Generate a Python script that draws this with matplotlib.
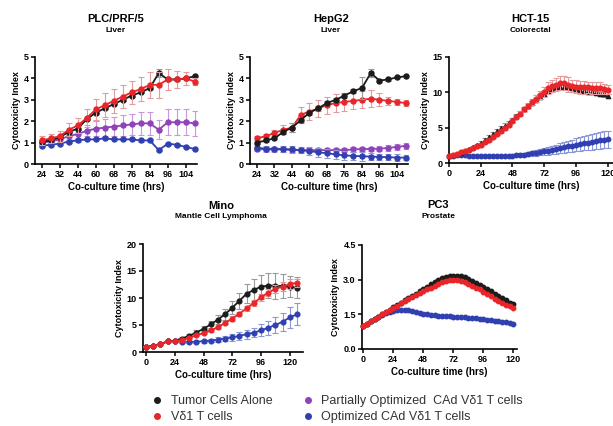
import numpy as np
import matplotlib
matplotlib.use("Agg")
import matplotlib.pyplot as plt
from matplotlib.lines import Line2D

plt.rcParams['font.family'] = ['Liberation Sans', 'DejaVu Sans']

W, H = 613, 426

# ---------------- data ----------------
liver_times = [24, 28, 32, 38, 44, 52, 60, 64, 68, 72, 76, 80, 84, 90, 96, 100, 104, 108]
liver_tick_labels = ['24', '32', '44', '60', '68', '76', '84', '96', '104']

plc_black = [1.05, 1.1, 1.25, 1.5, 1.65, 2.1, 2.4, 2.6, 2.8, 3.0, 3.2, 3.35, 3.55, 4.25, 3.95, 3.95, 4.0, 4.1]
plc_black_err = [0.05, 0.05, 0.05, 0.05, 0.05, 0.05, 0.05, 0.05, 0.05, 0.05, 0.05, 0.05, 0.05, 0.2, 0.05, 0.05, 0.05, 0.05]
plc_red = [1.1, 1.2, 1.3, 1.6, 1.8, 2.15, 2.55, 2.75, 2.95, 3.15, 3.35, 3.5, 3.7, 3.7, 3.95, 3.95, 4.0, 3.85]
plc_red_err = [0.2, 0.2, 0.25, 0.3, 0.35, 0.4, 0.5, 0.55, 0.55, 0.55, 0.55, 0.55, 0.6, 0.6, 0.5, 0.4, 0.3, 0.15]
plc_purple = [1.0, 1.05, 1.15, 1.3, 1.4, 1.55, 1.65, 1.7, 1.75, 1.8, 1.85, 1.9, 1.9, 1.6, 1.95, 1.95, 1.95, 1.9]
plc_purple_err = [0.1, 0.1, 0.1, 0.15, 0.2, 0.25, 0.35, 0.4, 0.45, 0.5, 0.5, 0.55, 0.55, 0.45, 0.6, 0.6, 0.6, 0.6]
plc_blue = [0.85, 0.9, 0.95, 1.05, 1.1, 1.15, 1.15, 1.2, 1.15, 1.15, 1.15, 1.1, 1.1, 0.65, 0.95, 0.9, 0.8, 0.7]
plc_blue_err = [0.05, 0.05, 0.05, 0.05, 0.05, 0.05, 0.05, 0.05, 0.05, 0.05, 0.05, 0.05, 0.05, 0.05, 0.05, 0.05, 0.05, 0.05]

hep_black = [1.0, 1.1, 1.2, 1.5, 1.7, 2.05, 2.4, 2.6, 2.85, 3.0, 3.2, 3.4, 3.55, 4.25, 3.9, 3.95, 4.05, 4.1]
hep_black_err = [0.05, 0.05, 0.05, 0.1, 0.2, 0.15, 0.1, 0.1, 0.1, 0.1, 0.1, 0.1, 0.5, 0.2, 0.05, 0.05, 0.05, 0.05]
hep_red = [1.2, 1.3, 1.45, 1.6, 1.7, 2.3, 2.45, 2.6, 2.75, 2.85, 2.9, 2.95, 3.0, 3.05, 3.0, 2.95, 2.9, 2.85]
hep_red_err = [0.1, 0.1, 0.15, 0.2, 0.2, 0.35, 0.4, 0.4, 0.4, 0.4, 0.4, 0.4, 0.4, 0.4, 0.3, 0.2, 0.15, 0.15]
hep_purple = [0.7, 0.68, 0.68, 0.68, 0.65, 0.65, 0.65, 0.65, 0.65, 0.65, 0.65, 0.68, 0.7, 0.7, 0.72, 0.75, 0.8, 0.85]
hep_purple_err = [0.1, 0.1, 0.1, 0.1, 0.1, 0.1, 0.1, 0.1, 0.1, 0.1, 0.1, 0.1, 0.1, 0.1, 0.12, 0.15, 0.15, 0.15]
hep_blue = [0.75, 0.72, 0.7, 0.7, 0.68, 0.65, 0.6, 0.55, 0.5, 0.45, 0.4, 0.38, 0.36, 0.35, 0.33, 0.32, 0.3, 0.3]
hep_blue_err = [0.1, 0.1, 0.1, 0.15, 0.15, 0.15, 0.2, 0.2, 0.2, 0.2, 0.2, 0.2, 0.2, 0.15, 0.15, 0.15, 0.15, 0.1]

dense_times = list(range(0, 121, 3))
hct_black = [1.0, 1.1, 1.25, 1.45, 1.7, 2.0, 2.3, 2.6, 2.9, 3.3, 3.7, 4.1, 4.5, 4.9, 5.3, 5.7, 6.1, 6.6, 7.1, 7.6,
             8.1, 8.5, 8.9, 9.4, 9.8, 10.2, 10.5, 10.7, 10.8, 10.8, 10.7, 10.6, 10.5, 10.4, 10.2, 10.1, 10.0, 9.9, 9.8, 9.7, 9.5]
hct_black_err = [0.05, 0.05, 0.1, 0.1, 0.1, 0.1, 0.15, 0.15, 0.2, 0.2, 0.2, 0.25, 0.25, 0.3, 0.3, 0.3, 0.3, 0.3, 0.3, 0.3,
                 0.3, 0.3, 0.3, 0.3, 0.3, 0.3, 0.3, 0.3, 0.3, 0.3, 0.3, 0.3, 0.3, 0.3, 0.3, 0.3, 0.3, 0.3, 0.3, 0.3, 0.3]
hct_red = [1.0, 1.1, 1.3, 1.5, 1.7, 1.9, 2.1, 2.4, 2.6, 3.0, 3.3, 3.7, 4.1, 4.5, 4.9, 5.4, 5.9, 6.5, 7.0, 7.6,
           8.1, 8.6, 9.1, 9.6, 10.1, 10.6, 10.9, 11.1, 11.3, 11.3, 11.1, 10.9, 10.8, 10.7, 10.7, 10.7, 10.6, 10.6, 10.6, 10.5, 10.4]
hct_red_err = [0.05, 0.05, 0.1, 0.1, 0.1, 0.1, 0.1, 0.1, 0.15, 0.15, 0.15, 0.2, 0.2, 0.2, 0.2, 0.25, 0.25, 0.3, 0.3, 0.35,
               0.4, 0.45, 0.5, 0.6, 0.7, 0.8, 0.9, 0.9, 1.0, 1.0, 1.0, 0.9, 0.9, 0.9, 0.9, 0.8, 0.8, 0.8, 0.8, 0.7, 0.7]
hct_blue = [1.0, 1.05, 1.1, 1.1, 1.1, 1.05, 1.0, 1.0, 1.0, 0.95, 0.95, 0.95, 0.95, 0.95, 1.0, 1.0, 1.05, 1.1, 1.15, 1.2,
            1.3, 1.35, 1.45, 1.55, 1.65, 1.75, 1.85, 1.95, 2.1, 2.2, 2.35, 2.45, 2.6, 2.7, 2.8, 2.9, 3.0, 3.1, 3.2, 3.3, 3.35]
hct_blue_err = [0.05, 0.05, 0.05, 0.05, 0.05, 0.05, 0.05, 0.05, 0.05, 0.05, 0.05, 0.05, 0.05, 0.1, 0.1, 0.1, 0.15, 0.15, 0.2, 0.25,
                0.3, 0.35, 0.4, 0.45, 0.5, 0.55, 0.6, 0.65, 0.7, 0.75, 0.8, 0.85, 0.9, 0.95, 1.0, 1.05, 1.1, 1.1, 1.15, 1.2, 1.2]

mino_times = list(range(0, 127, 6))
mino_black = [1.0, 1.1, 1.4, 2.0, 2.1, 2.5, 3.0, 3.6, 4.3, 5.1, 6.0, 7.0, 8.2, 9.5, 10.8, 11.5, 12.1, 12.3, 12.3, 12.2, 12.1, 11.9]
mino_black_err = [0.05, 0.05, 0.1, 0.1, 0.2, 0.3, 0.3, 0.4, 0.5, 0.6, 0.8, 1.0, 1.2, 1.5, 1.8, 2.0, 2.2, 2.3, 2.4, 2.2, 2.0, 1.9]
mino_red = [1.0, 1.1, 1.4, 2.0, 2.0, 2.2, 2.6, 3.1, 3.5, 4.0, 4.6, 5.4, 6.2, 7.1, 8.1, 9.1, 10.1, 11.0, 11.7, 12.1, 12.6, 12.8]
mino_red_err = [0.05, 0.05, 0.1, 0.1, 0.1, 0.1, 0.2, 0.2, 0.2, 0.3, 0.3, 0.3, 0.4, 0.4, 0.5, 0.5, 0.6, 0.6, 0.7, 0.8, 1.0, 0.8]
mino_blue = [1.0, 1.1, 1.4, 2.0, 2.0, 1.9, 1.9, 1.9, 2.0, 2.1, 2.3, 2.5, 2.7, 3.0, 3.3, 3.6, 4.0, 4.5, 5.0, 5.6, 6.4, 7.0]
mino_blue_err = [0.05, 0.05, 0.1, 0.1, 0.1, 0.2, 0.2, 0.2, 0.3, 0.3, 0.4, 0.5, 0.6, 0.7, 0.8, 0.9, 1.1, 1.3, 1.5, 1.7, 1.9, 2.0]

pc3_black = [1.0, 1.1, 1.2, 1.3, 1.4, 1.5, 1.6, 1.7, 1.8, 1.9, 2.0, 2.1, 2.2, 2.3, 2.4, 2.5, 2.6, 2.7, 2.8, 2.9,
             3.0, 3.07, 3.12, 3.16, 3.18, 3.18, 3.15, 3.1, 3.03, 2.95, 2.87, 2.78, 2.7, 2.6, 2.5, 2.4, 2.3, 2.2, 2.1, 2.0, 1.95]
pc3_red = [1.0, 1.1, 1.2, 1.3, 1.4, 1.5, 1.6, 1.7, 1.78, 1.88, 1.97, 2.06, 2.15, 2.24, 2.33, 2.42, 2.5, 2.58, 2.66, 2.74,
           2.82, 2.88, 2.93, 2.97, 2.98, 2.97, 2.94, 2.89, 2.82, 2.74, 2.66, 2.58, 2.48, 2.38, 2.28, 2.18, 2.08, 1.98, 1.9, 1.84, 1.78]
pc3_blue = [1.0, 1.1, 1.2, 1.3, 1.4, 1.48, 1.55, 1.6, 1.65, 1.68, 1.7, 1.7, 1.68, 1.65, 1.6, 1.56, 1.52, 1.5, 1.48, 1.46,
            1.44, 1.43, 1.42, 1.41, 1.4, 1.39, 1.38, 1.37, 1.36, 1.35, 1.33, 1.31, 1.29, 1.27, 1.25, 1.22, 1.2, 1.18, 1.15, 1.12, 1.1]

legend_labels = ['Tumor Cells Alone', 'V\u03b41 T cells',
                 'Partially Optimized  CAd V\u03b41 T cells', 'Optimized CAd V\u03b41 T cells']

# ---------------- styles ----------------
C_BLACK, C_RED, C_PURPLE, C_BLUE = '#1c1c1c', '#e8262a', '#8e44b8', '#3040b0'
E_BLACK, E_RED, E_PURPLE, E_BLUE = '#9a9a9a', '#e59a9c', '#c897dc', '#8c97d8'

fig = plt.figure(figsize=(W / 100, H / 100), dpi=100)


def px_axes(x0, x1, ytop, ybot):
    return fig.add_axes([x0 / W, 1 - ybot / H, (x1 - x0) / W, (ybot - ytop) / H])


def style(ax, ylab_x=None):
    for s in ['top', 'right']:
        ax.spines[s].set_visible(False)
    for s in ['left', 'bottom']:
        ax.spines[s].set_linewidth(1.2)
    ax.tick_params(direction='out', length=3, width=1.1, pad=1.5, labelsize=6.5)
    for lab in ax.get_xticklabels() + ax.get_yticklabels():
        lab.set_fontweight('bold')
    ax.set_xlabel('Co-culture time (hrs)', fontsize=7, fontweight='bold', labelpad=2)
    ax.set_ylabel('Cytotoxicity Index', fontsize=6.5, fontweight='bold', labelpad=2)


def series(ax, x, y, e, c, ec, marker='o', ms=3.6, line=True, z=2):
    if e is not None:
        ax.errorbar(x, y, yerr=e, fmt='none', ecolor=ec, elinewidth=0.8, capsize=2, capthick=0.8, zorder=z)
    ax.plot(x, y, marker=marker, color=c, ms=ms, lw=1.3 if line else 0, zorder=z + 0.5, clip_on=False)


def titles(xc, y1, y2, t1, t2):
    fig.text(xc / W, 1 - y1 / H, t1, ha='center', va='center', fontsize=8, fontweight='bold')
    fig.text(xc / W, 1 - y2 / H, t2, ha='center', va='center', fontsize=6, fontweight='bold')


idx = np.arange(len(liver_times))

# PLC/PRF/5
ax = px_axes(35, 197, 57, 164)
series(ax, idx, plc_purple, plc_purple_err, C_PURPLE, E_PURPLE, z=2)
series(ax, idx, plc_blue, plc_blue_err, C_BLUE, E_BLUE, z=3)
series(ax, idx, plc_black, plc_black_err, C_BLACK, E_BLACK, z=4)
series(ax, idx, plc_red, plc_red_err, C_RED, E_RED, z=5)
ax.set_xlim(-0.75, 17.25)
ax.set_ylim(0, 5)
ax.set_xticks(idx[::2])
ax.set_xticklabels(liver_tick_labels)
ax.set_yticks([0, 1, 2, 3, 4, 5])
style(ax)
titles(116, 19, 31, 'PLC/PRF/5', 'Liver')

# HepG2
ax = px_axes(250, 408, 57, 164)
series(ax, idx, hep_purple, hep_purple_err, C_PURPLE, E_PURPLE, z=2)
series(ax, idx, hep_blue, hep_blue_err, C_BLUE, E_BLUE, z=3)
series(ax, idx, hep_red, hep_red_err, C_RED, E_RED, z=4)
series(ax, idx, hep_black, hep_black_err, C_BLACK, E_BLACK, z=5)
ax.set_xlim(-0.8, 17.26)
ax.set_ylim(0, 5)
ax.set_xticks(idx[::2])
ax.set_xticklabels(liver_tick_labels)
ax.set_yticks([0, 1, 2, 3, 4, 5])
style(ax)
titles(331, 19, 31, 'HepG2', 'Liver')

# HCT-15
ax = px_axes(449, 613, 57, 163)
series(ax, dense_times, hct_blue, hct_blue_err, C_BLUE, E_BLUE, ms=3.2, line=False, z=2)
series(ax, dense_times, hct_black, hct_black_err, C_BLACK, E_BLACK, marker='^', ms=3.0, line=False, z=3)
series(ax, dense_times, hct_red, hct_red_err, C_RED, E_RED, ms=3.4, line=False, z=4)
ax.set_xlim(0, 124)
ax.set_ylim(0, 15)
ax.set_xticks([0, 24, 48, 72, 96, 120])
ax.set_yticks([0, 5, 10, 15])
style(ax)
titles(530, 19, 31, 'HCT-15', 'Colorectal')

# Mino
ax = px_axes(143, 303, 244, 352)
series(ax, mino_times, mino_blue, mino_blue_err, C_BLUE, E_BLUE, ms=3.4, z=2)
series(ax, mino_times, mino_black, mino_black_err, C_BLACK, E_BLACK, ms=3.4, z=3)
series(ax, mino_times, mino_red, mino_red_err, C_RED, E_RED, ms=3.4, z=4)
ax.set_xlim(-2.5, 131)
ax.set_ylim(0, 20)
ax.set_xticks([0, 24, 48, 72, 96, 120])
ax.set_yticks([0, 5, 10, 15, 20])
style(ax)
titles(221, 206, 217, 'Mino', 'Mantle Cell Lymphoma')

# PC3
ax = px_axes(362, 517, 245, 349)
series(ax, dense_times, pc3_blue, None, C_BLUE, E_BLUE, ms=3.2, line=False, z=2)
series(ax, dense_times, pc3_black, None, C_BLACK, E_BLACK, ms=3.2, line=False, z=3)
series(ax, dense_times, pc3_red, None, C_RED, E_RED, ms=3.2, line=False, z=4)
ax.set_xlim(-1, 123)
ax.set_ylim(0, 4.5)
ax.set_xticks([0, 24, 48, 72, 96, 120])
ax.set_yticks([0, 1.5, 3.0, 4.5])
ax.set_yticklabels(['0.0', '1.5', '3.0', '4.5'])
style(ax)
titles(438, 205, 216, 'PC3', 'Prostate')

# Legend
handles = [Line2D([], [], ls='none', marker='o', ms=4, color=c) for c in (C_BLACK, C_RED, C_PURPLE, C_BLUE)]
fig.legend(handles, legend_labels, loc='upper left', bbox_to_anchor=(151 / W, 1 - 395 / H), ncol=2,
           frameon=False, fontsize=9, handlelength=1.0, handletextpad=0.6, columnspacing=2.3,
           labelspacing=0.35, borderpad=0, borderaxespad=0, labelcolor='#333333')

fig.savefig('out.png', dpi=100)
